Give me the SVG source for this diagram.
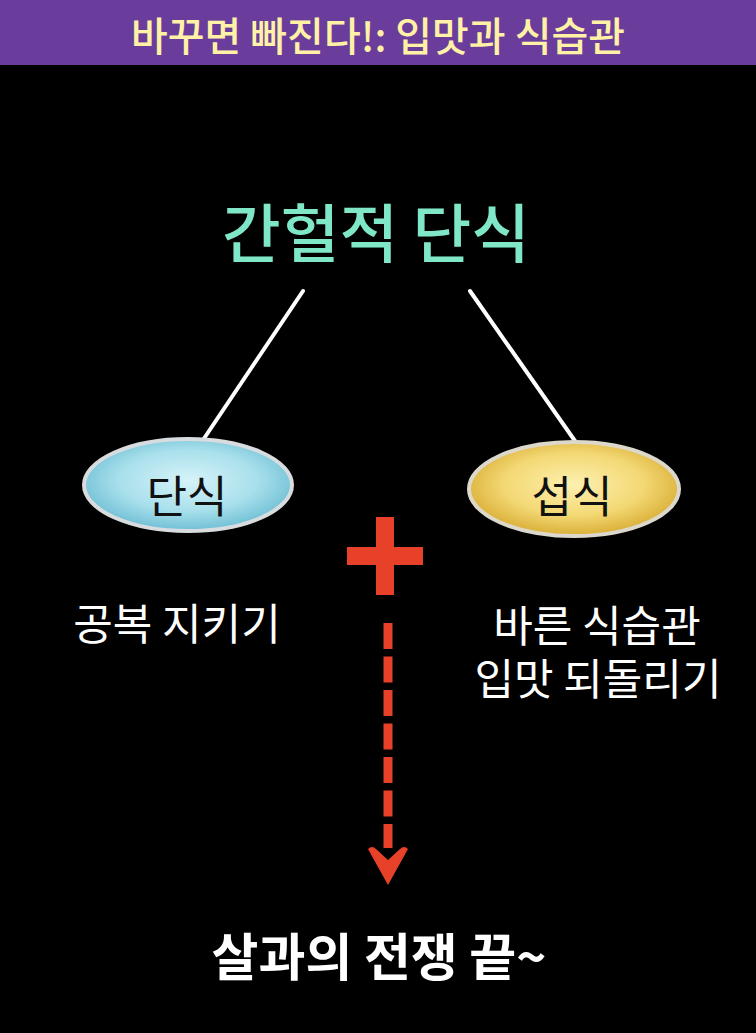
<svg xmlns="http://www.w3.org/2000/svg" width="756" height="1033" viewBox="0 0 756 1033">
<defs>
<style>
.k{font-family:"Noto Sans CJK KR","Noto Sans",sans-serif;text-anchor:middle}
.w{fill:#ffffff;font-size:43px}
.lbl{fill:#111111;font-size:44px}
.conn{stroke:#ffffff;stroke-width:4;stroke-linecap:round;fill:none}
.red{fill:#e8412a}
</style>
<radialGradient id="gb" cx="50%" cy="45%" r="55%">
<stop offset="0" stop-color="#d6f3f8"/>
<stop offset="0.6" stop-color="#a9e0ec"/>
<stop offset="1" stop-color="#6fbfd4"/>
</radialGradient>
<radialGradient id="gy" cx="50%" cy="45%" r="55%">
<stop offset="0" stop-color="#fdf0b0"/>
<stop offset="0.6" stop-color="#f3d874"/>
<stop offset="1" stop-color="#d9ae36"/>
</radialGradient>
</defs>
<rect x="0" y="0" width="756" height="1033" fill="#000000"/>
<g id="header">
<rect x="0" y="0" width="756" height="65" fill="#6a3d9d"/>
<text class="k" x="378" y="51" font-size="40" font-weight="500" fill="#fff1a6" textLength="494" lengthAdjust="spacingAndGlyphs">바꾸면 빠진다!: 입맛과 식습관</text>
</g>
<g id="connectors">
<line class="conn" x1="303" y1="291" x2="203" y2="440"/>
<line class="conn" x1="470" y1="291" x2="575" y2="441"/>
<line x1="388" y1="623" x2="388" y2="848" stroke="#e8412a" stroke-width="9" stroke-dasharray="26 7.5"/>
<path class="red" d="M368,849 Q372,845 376,849 L388,860 L400,849 Q404,845 408,849 L388,885 Z"/>
</g>
<g id="title">
<text class="k" x="376" y="257" font-size="64" font-weight="500" fill="#7fe6c7" textLength="308" lengthAdjust="spacingAndGlyphs">간헐적 단식</text>
</g>
<g id="node-fasting">
<ellipse cx="188" cy="485" rx="104" ry="46" fill="url(#gb)" stroke="#d8dcdf" stroke-width="4"/>
<text class="k lbl" x="187" y="513">단식</text>
</g>
<g id="node-eating">
<ellipse cx="574" cy="489" rx="105" ry="47" fill="url(#gy)" stroke="#dcd8cc" stroke-width="4"/>
<text class="k lbl" x="572" y="513">섭식</text>
</g>
<g id="plus">
<rect class="red" x="376" y="517" width="18" height="78"/>
<rect class="red" x="347" y="547" width="76" height="18"/>
</g>
<g id="text-left">
<text class="k w" x="177" y="640">공복 지키기</text>
</g>
<g id="text-right">
<text class="k w" x="597" y="642">바른 식습관</text>
<text class="k w" x="598" y="695">입맛 되돌리기</text>
</g>
<g id="result">
<text class="k" x="379" y="976" font-size="51" font-weight="bold" fill="#ffffff">살과의 전쟁 끝~</text>
</g>
</svg>
